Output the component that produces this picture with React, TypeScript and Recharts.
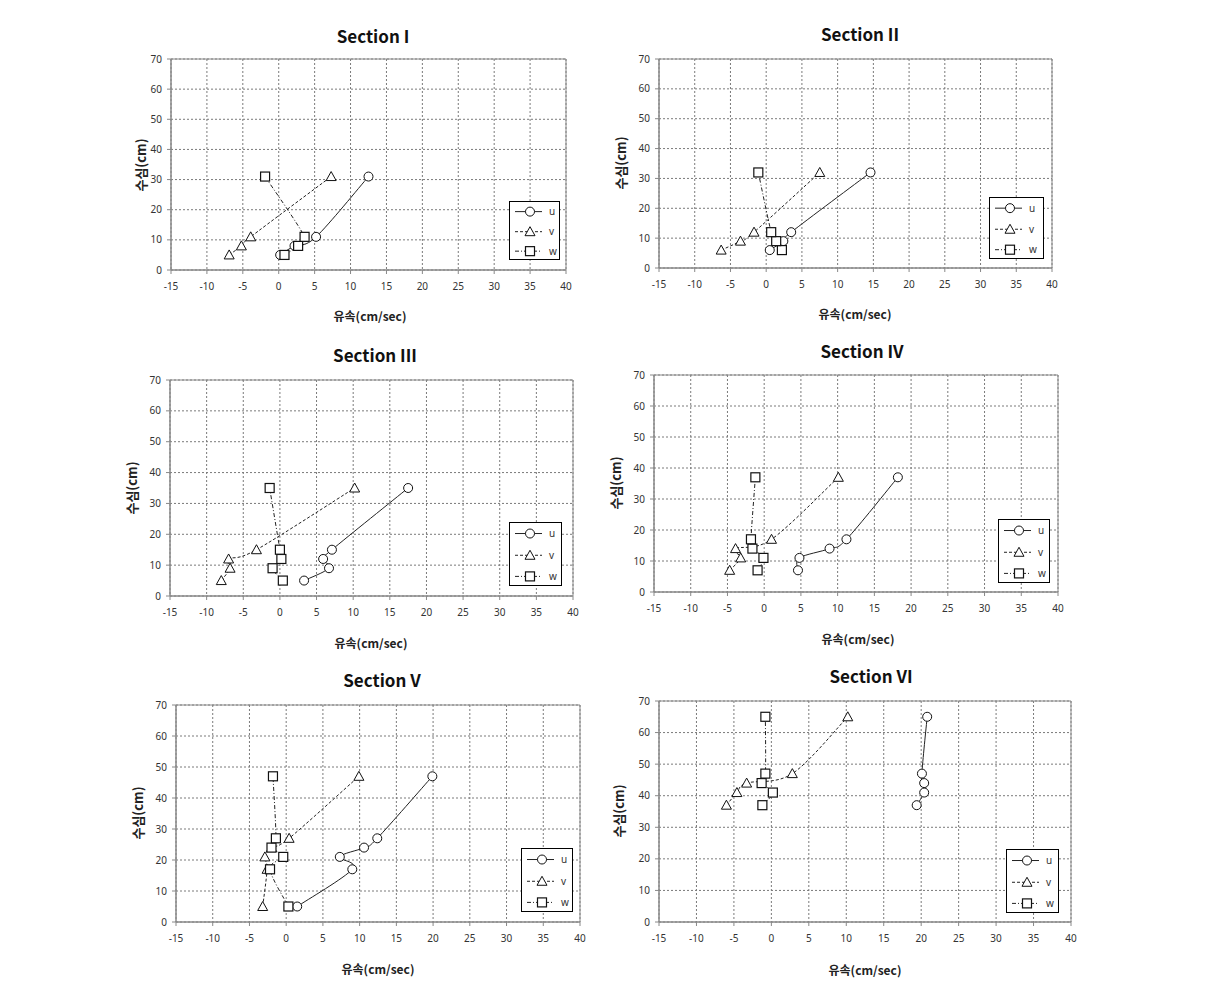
import React from 'react';
import { ScatterChart, Scatter, XAxis, YAxis, CartesianGrid, ReferenceArea } from 'recharts';

const xTicks = [-15, -10, -5, 0, 5, 10, 15, 20, 25, 30, 35, 40];
const yTicks = [0, 10, 20, 30, 40, 50, 60, 70];
const seriesNames = ['u', 'v', 'w'];
const sectionTitles = ['Section I', 'Section II', 'Section III', 'Section IV', 'Section V', 'Section VI'];
const xAxisLabel = '유속(cm/sec)';
const yAxisLabel = '수심(cm)';

// Section I
const s1Depth = [5, 8, 11, 31];
const s1U = [0.2, 2.2, 5.2, 12.5];
const s1V = [-6.9, -5.2, -3.9, 7.3];
const s1W = [0.8, 2.7, 3.6, -1.9];
// Section II
const s2Depth = [6, 9, 12, 32];
const s2U = [0.5, 2.4, 3.5, 14.6];
const s2V = [-6.3, -3.6, -1.7, 7.5];
const s2W = [2.2, 1.4, 0.7, -1.1];
// Section III
const s3Depth = [5, 9, 12, 15, 35];
const s3U = [3.3, 6.7, 5.9, 7.1, 17.5];
const s3V = [-8, -6.8, -7, -3.2, 10.2];
const s3W = [0.4, -1, 0.2, 0, -1.4];
// Section IV
const s4Depth = [7, 11, 14, 17, 37];
const s4U = [4.6, 4.8, 8.9, 11.2, 18.2];
const s4V = [-4.7, -3.2, -3.9, 1, 10.1];
const s4W = [-0.9, -0.1, -1.6, -1.8, -1.2];
// Section V
const s5Depth = [5, 17, 21, 24, 27, 47];
const s5U = [1.5, 9, 7.3, 10.6, 12.4, 19.9];
const s5V = [-3.2, -2.6, -2.9, -2, 0.4, 9.9];
const s5W = [0.3, -2.2, -0.4, -2, -1.4, -1.8];
// Section VI
const s6Depth = [37, 41, 44, 47, 65];
const s6U = [19.4, 20.4, 20.4, 20.1, 20.8];
const s6V = [-6, -4.6, -3.3, 2.8, 10.2];
const s6W = [-1.2, 0.2, -1.3, -0.8, -0.8];

const sections = [
  { depth: s1Depth, u: s1U, v: s1V, w: s1W },
  { depth: s2Depth, u: s2U, v: s2V, w: s2W },
  { depth: s3Depth, u: s3U, v: s3V, w: s3W },
  { depth: s4Depth, u: s4U, v: s4V, w: s4W },
  { depth: s5Depth, u: s5U, v: s5V, w: s5W },
  { depth: s6Depth, u: s6U, v: s6V, w: s6W },
];

// layout (page pixel coordinates)
const layouts = [
  { L: 171, R: 566, T: 59, B: 270, title: [373, 35], xl: [370, 315], yl: [140, 165], lg: [509, 201, 51, 59] },
  { L: 659, R: 1052, T: 59, B: 268, title: [860, 33], xl: [855, 313], yl: [620, 163], lg: [989, 197, 55, 62] },
  { L: 170, R: 573, T: 380, B: 596, title: [375, 354], xl: [371, 642], yl: [131, 488], lg: [509, 522, 53, 64] },
  { L: 654, R: 1058, T: 375, B: 592, title: [862, 350], xl: [858, 638], yl: [615, 483], lg: [998, 519, 52, 64] },
  { L: 176, R: 580, T: 705, B: 922, title: [382, 679], xl: [378, 968], yl: [137, 813], lg: [521, 848, 52, 64] },
  { L: 659, R: 1071, T: 701, B: 922, title: [871, 675], xl: [865, 969], yl: [618, 811], lg: [1006, 849, 53, 64] },
];

const LINE = '#222';
const MARK = '#111';

const CircleShape = (p: any) => (
  <circle cx={p.cx} cy={p.cy} r={4.5} fill="#fff" stroke={MARK} strokeWidth={1} />
);
const TriangleShape = (p: any) => (
  <polygon
    points={`${p.cx},${p.cy - 5} ${p.cx - 5},${p.cy + 4} ${p.cx + 5},${p.cy + 4}`}
    fill="#fff"
    stroke={MARK}
    strokeWidth={1}
  />
);
const SquareShape = (p: any) => (
  <rect x={p.cx - 4.5} y={p.cy - 4.5} width={9} height={9} fill="#fff" stroke={MARK} strokeWidth={1.2} />
);

const styles = [
  { shape: CircleShape, dash: undefined as string | undefined },
  { shape: TriangleShape, dash: '3 2' },
  { shape: SquareShape, dash: '4 2 1 2' },
];

// Excel-like smoothed line (Catmull-Rom through the points the library computed)
const smoothPath = (pts: { x: number; y: number }[]) => {
  if (!pts || pts.length < 2) return '';
  let d = `M${pts[0].x},${pts[0].y}`;
  for (let i = 0; i < pts.length - 1; i++) {
    const p0 = pts[i - 1] || pts[i];
    const p1 = pts[i];
    const p2 = pts[i + 1];
    const p3 = pts[i + 2] || p2;
    const c1x = p1.x + (p2.x - p0.x) / 6;
    const c1y = p1.y + (p2.y - p0.y) / 6;
    const c2x = p2.x - (p3.x - p1.x) / 6;
    const c2y = p2.y - (p3.y - p1.y) / 6;
    d += ` C${c1x},${c1y} ${c2x},${c2y} ${p2.x},${p2.y}`;
  }
  return d;
};

const makeLine = (dash?: string) => (props: any) => (
  <path
    d={smoothPath(props.points)}
    fill="none"
    stroke={LINE}
    strokeWidth={1}
    strokeDasharray={dash}
  />
);

const toPoints = (xs: number[], ys: number[]) => ys.map((y, i) => ({ x: xs[i], y }));

const LegendBox = ({ lg }: { lg: number[] }) => {
  const [x, y, w, h] = lg;
  const rows = [h * 0.18, h * 0.52, h * 0.85];
  return (
    <svg style={{ position: 'absolute', left: x, top: y, overflow: 'visible' }} width={w} height={h}>
      <rect x={0.5} y={0.5} width={w - 1} height={h - 1} fill="#fff" stroke="#000" strokeWidth={1} />
      {seriesNames.map((name, i) => {
        const cy = rows[i];
        const Shape = styles[i].shape;
        return (
          <g key={name}>
            <line x1={6} x2={33} y1={cy} y2={cy} stroke={LINE} strokeWidth={1} strokeDasharray={styles[i].dash} />
            <Shape cx={21} cy={cy} />
            <text x={40} y={cy + 3.5} fontSize={10} fontFamily="'Noto Sans', sans-serif" fill="#333">
              {name}
            </text>
          </g>
        );
      })}
    </svg>
  );
};

const Panel = ({ idx }: { idx: number }) => {
  const lay = layouts[idx];
  const sec = sections[idx];
  const plotW = lay.R - lay.L;
  const plotH = lay.B - lay.T;
  const left = lay.L - 60;
  const top = lay.T - 50;
  const W = plotW + 80;
  const H = plotH + 90;
  const seriesX = [sec.u, sec.v, sec.w];
  const tickStyle = { fontSize: 10, fill: '#333', fontFamily: "'Noto Sans', sans-serif" };
  return (
    <>
      <div style={{ position: 'absolute', left, top, width: W, height: H }}>
        <ScatterChart width={W} height={H} margin={{ top: 50, right: 20, bottom: 10, left: 20 }}>
          <CartesianGrid stroke="#7a7a7a" strokeDasharray="2 2" />
          <XAxis
            type="number"
            dataKey="x"
            domain={[-15, 40]}
            ticks={xTicks}
            interval={0}
            allowDataOverflow
            height={30}
            tickSize={4}
            tickMargin={9}
            tick={tickStyle}
            stroke="#888"
          />
          <YAxis
            type="number"
            dataKey="y"
            domain={[0, 70]}
            ticks={yTicks}
            interval={0}
            allowDataOverflow
            width={40}
            tickSize={4}
            tickMargin={5}
            tick={tickStyle}
            stroke="#888"
          />
          <ReferenceArea x1={-15} x2={40} y1={0} y2={70} fill="none" stroke="#888" strokeWidth={1} />
          {seriesNames.map((name, i) => (
            <Scatter
              key={name}
              name={name}
              data={toPoints(seriesX[i], sec.depth)}
              line={makeLine(styles[i].dash)}
              shape={styles[i].shape}
              isAnimationActive={false}
            />
          ))}
        </ScatterChart>
      </div>
      <div
        style={{
          position: 'absolute',
          left: lay.title[0],
          top: lay.title[1],
          transform: 'translate(-50%, -50%)',
          whiteSpace: 'nowrap',
          fontFamily: "'Noto Sans CJK KR', 'Noto Sans', sans-serif",
          fontWeight: 700,
          fontSize: 17,
          color: '#111',
        }}
      >
        {sectionTitles[idx]}
      </div>
      <div
        style={{
          position: 'absolute',
          left: lay.xl[0],
          top: lay.xl[1],
          transform: 'translate(-50%, -50%)',
          whiteSpace: 'nowrap',
          fontFamily: "'Noto Sans CJK KR', sans-serif",
          fontWeight: 700,
          fontSize: 12,
          color: '#222',
        }}
      >
        {xAxisLabel}
      </div>
      <div
        style={{
          position: 'absolute',
          left: lay.yl[0],
          top: lay.yl[1],
          transform: 'translate(-50%, -50%) rotate(-90deg)',
          whiteSpace: 'nowrap',
          fontFamily: "'Noto Sans CJK KR', sans-serif",
          fontWeight: 700,
          fontSize: 13,
          color: '#222',
        }}
      >
        {yAxisLabel}
      </div>
      <LegendBox lg={lay.lg} />
    </>
  );
};

export default function App() {
  return (
    <div style={{ position: 'absolute', left: 0, top: 0, width: 1208, height: 984, background: '#fff' }}>
      {layouts.map((_, i) => (
        <Panel key={i} idx={i} />
      ))}
    </div>
  );
}
